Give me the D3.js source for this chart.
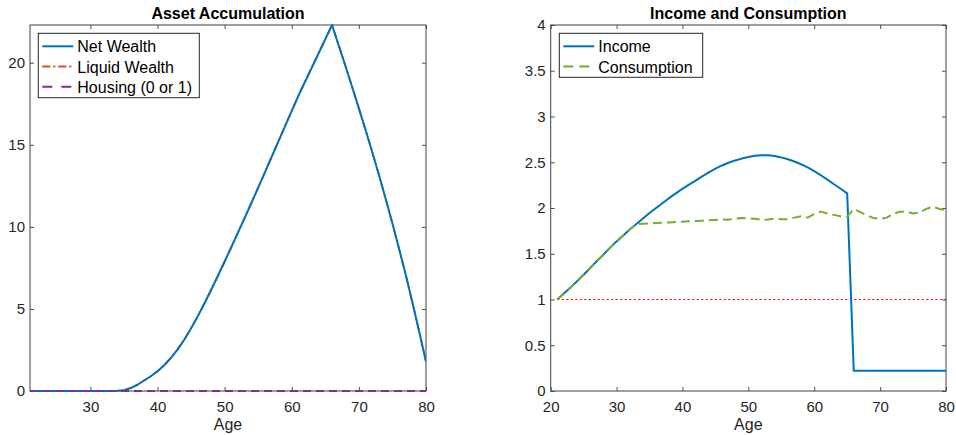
<!DOCTYPE html>
<html>
<head>
<meta charset="utf-8">
<script src="https://cdn.jsdelivr.net/npm/d3@7"></script>
<style>
body { margin: 0; background: #fff; }
svg { display: block; font-family: "Liberation Sans", Arial, sans-serif; }
.tick text { fill: #262626; font-size: 15px; }
</style>
</head>
<body>
<svg id="chart" width="956" height="435"></svg>
<script>
// one point per year of age
const ages = [21,22,23,24,25,26,27,28,29,30,31,32,33,34,35,36,37,38,39,40,
              41,42,43,44,45,46,47,48,49,50,51,52,53,54,55,56,57,58,59,60,
              61,62,63,64,65,66,67,68,69,70,71,72,73,74,75,76,77,78,79,80];

// left panel
const netWealth = [0,0,0,0,0,0,0,0,0,0,0,0,0,
                   0.01,0.05,0.18,0.38,0.64,0.9,1.2,1.57,2.02,2.54,3.14,3.82,4.56,5.35,6.17,7.02,
                   7.89,8.77,9.66,10.56,11.47,12.39,13.32,14.26,15.2,16.14,17.07,18.0,
                   18.86,19.72,20.58,21.44,22.3,
                   21.05,19.8,18.52,17.22,15.9,14.55,13.15,11.7,10.2,8.65,7.05,5.35,3.6,1.8];
// liquid wealth sits exactly under the net wealth line in the picture
const liquidWealth = netWealth.slice();
const housing = [0,0,0,0,0,0,0,0,0,0,0,0,0,0,0,0,0,0,0,0,
                 0,0,0,0,0,0,0,0,0,0,0,0,0,0,0,0,0,0,0,0,
                 0,0,0,0,0,0,0,0,0,0,0,0,0,0,0,0,0,0,0,0];

// right panel
const income = [1.00,1.065,1.13,1.20,1.27,1.345,1.42,1.49,1.565,1.635,1.70,1.765,1.825,
                1.885,1.945,2.00,2.055,2.11,2.16,2.21,2.255,2.30,2.345,2.39,2.43,2.465,2.495,
                2.52,2.54,2.558,2.57,2.577,2.576,2.568,2.553,2.533,2.508,2.478,2.443,2.403,
                2.358,2.31,2.26,2.21,2.16,
                0.22,0.22,0.22,0.22,0.22,0.22,0.22,0.22,0.22,0.22,0.22,0.22,0.22,0.22,0.22];
const consumption = [1.00,1.065,1.13,1.20,1.27,1.345,1.42,1.49,1.565,1.635,1.70,1.765,1.825,
                     1.828,1.832,1.835,1.838,1.842,1.846,1.85,1.854,1.858,1.862,1.866,1.87,1.875,
                     1.872,1.885,1.89,1.888,1.882,1.87,1.874,1.885,1.876,1.878,1.895,1.91,1.895,
                     1.935,1.96,1.94,1.925,1.91,1.905,1.99,1.955,1.92,1.89,1.88,1.895,1.935,
                     1.96,1.96,1.94,1.95,1.99,2.015,1.99,1.975];
const refAges = [21, 80];
const refLevel = [1, 1];

const leftXTicks = [30,40,50,60,70,80];
const leftYTicks = [0,5,10,15,20];
const rightXTicks = [20,30,40,50,60,70,80];
const rightYTicks = [0,0.5,1,1.5,2,2.5,3,3.5,4];

const col = {blue:'#0072BD', orange:'#D95319', purple:'#7E2F8E', green:'#77AC30', red:'#FF0000', axis:'#262626'};

const svg = d3.select('#chart');

function draw_axes(box, x, y, xt, yt, yfmt, title)
{
    var g = svg.append('g');
    var tk = 4;
    g.append('g')
        .attr('transform', 'translate(0,' + box.y1 + ')')
        .call(d3.axisBottom(x).tickValues(xt).tickSize(-tk).tickPadding(10).tickFormat(d3.format('d')));
    g.append('g')
        .attr('transform', 'translate(0,' + box.y0 + ')')
        .call(d3.axisTop(x).tickValues(xt).tickSize(-tk).tickFormat(''));
    g.append('g')
        .attr('transform', 'translate(' + box.x0 + ',0)')
        .call(d3.axisLeft(y).tickValues(yt).tickSize(-tk).tickPadding(5).tickFormat(yfmt));
    g.append('g')
        .attr('transform', 'translate(' + box.x1 + ',0)')
        .call(d3.axisRight(y).tickValues(yt).tickSize(-tk).tickFormat(''));
    g.selectAll('.domain').remove();
    g.selectAll('.tick line').attr('stroke', col.axis).attr('stroke-width', 0.8);
    g.selectAll('.tick text').attr('font-family', null).attr('font-size', null);

    g.append('rect')
        .attr('x', box.x0).attr('y', box.y0)
        .attr('width', box.x1 - box.x0).attr('height', box.y1 - box.y0)
        .attr('fill', 'none').attr('stroke', '#404040').attr('stroke-width', 1);

    g.append('text')
        .attr('x', (box.x0 + box.x1) / 2).attr('y', 18.5)
        .attr('text-anchor', 'middle')
        .style('font-size', '16px').style('font-weight', 'bold').style('fill', '#000')
        .text(title);
    g.append('text')
        .attr('x', (box.x0 + box.x1) / 2).attr('y', 430)
        .attr('text-anchor', 'middle')
        .style('font-size', '16px').style('fill', '#262626')
        .text('Age');
    return g;
}

function add_line(g, clipId, x, y, xs, ys, color, width, dash)
{
    var line = d3.line().x((d, i) => x(xs[i])).y(d => y(d));
    g.append('path')
        .datum(ys)
        .attr('clip-path', 'url(#' + clipId + ')')
        .attr('fill', 'none')
        .attr('stroke', color)
        .attr('stroke-width', width)
        .attr('stroke-dasharray', dash)
        .attr('stroke-linejoin', 'round')
        .attr('d', line);
}

function add_legend(g, bx, items)
{
    g.append('rect')
        .attr('x', bx.x).attr('y', bx.y).attr('width', bx.w).attr('height', bx.h)
        .attr('fill', '#fff').attr('stroke', '#262626').attr('stroke-width', 1);
    items.forEach(function(it, i) {
        var cy = bx.y + 13 + i * 20.2;
        g.append('line')
            .attr('x1', bx.x + 4).attr('x2', bx.x + 35)
            .attr('y1', cy).attr('y2', cy)
            .attr('stroke', it.color).attr('stroke-width', 2)
            .attr('stroke-dasharray', it.dash);
        g.append('text')
            .attr('x', bx.x + 39).attr('y', cy + 6)
            .style('font-size', '16px').style('fill', '#000')
            .text(it.label);
    });
}

function add_clip(id, box)
{
    svg.append('clipPath').attr('id', id)
        .append('rect')
        .attr('x', box.x0).attr('y', box.y0 - 2)
        .attr('width', box.x1 - box.x0).attr('height', box.y1 - box.y0 + 3);
}

// ---- Asset Accumulation
var boxL = {x0: 30, x1: 426, y0: 25, y1: 391};
var xL = d3.scaleLinear().domain([21, 80]).range([boxL.x0, boxL.x1]);
var yL = d3.scaleLinear().domain([0, d3.max(netWealth)]).range([boxL.y1, boxL.y0]);
add_clip('clipL', boxL);
var gL = draw_axes(boxL, xL, yL, leftXTicks, leftYTicks, d3.format('d'), 'Asset Accumulation');
add_line(gL, 'clipL', xL, yL, ages, liquidWealth, col.orange, 1.8, '8,3,2,3');
add_line(gL, 'clipL', xL, yL, ages, netWealth, col.blue, 2, null);
add_line(gL, 'clipL', xL, yL, ages, housing, col.purple, 2.2, '8,5');
add_legend(gL, {x: 38.3, y: 33.3, w: 161, h: 64.4}, [
    {label: 'Net Wealth', color: col.blue, dash: null},
    {label: 'Liquid Wealth', color: col.orange, dash: '8,3,2,3'},
    {label: 'Housing (0 or 1)', color: col.purple, dash: '10,9'}
]);

// ---- Income and Consumption
var boxR = {x0: 550.7, x1: 946, y0: 25, y1: 391};
var xR = d3.scaleLinear().domain([20, 80]).range([boxR.x0, boxR.x1]);
var yR = d3.scaleLinear().domain([0, 4]).range([boxR.y1, boxR.y0]);
add_clip('clipR', boxR);
var gR = draw_axes(boxR, xR, yR, rightXTicks, rightYTicks, d => String(d), 'Income and Consumption');
add_line(gR, 'clipR', xR, yR, refAges, refLevel, '#f00', 1, '2,2.5');
add_line(gR, 'clipR', xR, yR, ages, income, col.blue, 2, null);
add_line(gR, 'clipR', xR, yR, ages, consumption, col.green, 2, '9,5');
add_legend(gR, {x: 559.3, y: 33.3, w: 143.4, h: 44}, [
    {label: 'Income', color: col.blue, dash: null},
    {label: 'Consumption', color: col.green, dash: '10,6'}
]);
</script>
</body>
</html>
